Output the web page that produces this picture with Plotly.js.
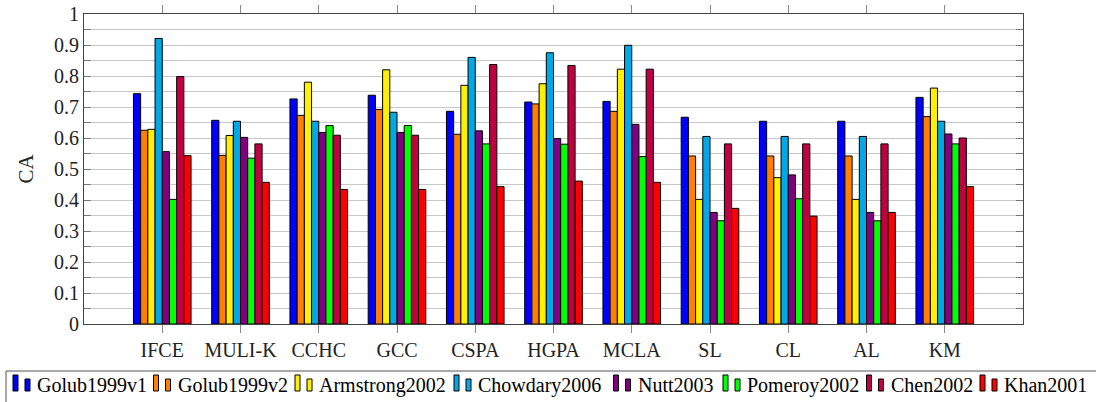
<!DOCTYPE html>
<html>
<head>
<meta charset="utf-8">
<script src="https://cdn.plot.ly/plotly-3.0.1.min.js"></script>
<style>html,body{margin:0;padding:0;background:#fff;}#chart{width:1096px;height:402px;}</style>
</head>
<body>
<div id="chart"></div>
<script>
const categories = ["IFCE","MULI-K","CCHC","GCC","CSPA","HGPA","MCLA","SL","CL","AL","KM"];
const seriesNames = ["Golub1999v1","Golub1999v2","Armstrong2002","Chowdary2006","Nutt2003","Pomeroy2002","Chen2002","Khan2001"];
const golub1999v1   = [0.743,0.657,0.726,0.738,0.686,0.716,0.718,0.667,0.654,0.654,0.731];
const golub1999v2   = [0.625,0.544,0.673,0.692,0.612,0.710,0.686,0.542,0.542,0.542,0.669];
const armstrong2002 = [0.628,0.608,0.780,0.820,0.770,0.775,0.822,0.402,0.472,0.402,0.761];
const chowdary2006  = [0.921,0.654,0.654,0.683,0.860,0.875,0.899,0.605,0.605,0.605,0.654];
const nutt2003      = [0.556,0.602,0.618,0.618,0.623,0.598,0.644,0.360,0.481,0.360,0.613];
const pomeroy2002   = [0.402,0.535,0.640,0.640,0.581,0.580,0.540,0.333,0.404,0.333,0.581];
const chen2002      = [0.798,0.581,0.609,0.609,0.837,0.834,0.822,0.581,0.581,0.581,0.600];
const khan2001      = [0.543,0.457,0.434,0.434,0.443,0.461,0.457,0.373,0.348,0.360,0.443];
const yTickVals = [0,0.1,0.2,0.3,0.4,0.5,0.6,0.7,0.8,0.9,1];
const yTickText = ["0","0.1","0.2","0.3","0.4","0.5","0.6","0.7","0.8","0.9","1"];

const seriesValues = [golub1999v1,golub1999v2,armstrong2002,chowdary2006,nutt2003,pomeroy2002,chen2002,khan2001];
const colors = ["#0000ff","#ff8000","#fff000","#00a8e8","#800080","#00ff00","#c00040","#ff0000"];
const FONT = "Liberation Serif";

// plot-area geometry (pixels)
const W = 1096, H = 402, L = 84, R = 73, T = 14, B = 78;
const PW = W - L - R, PH = H - T - B;
const px = x => (x - L) / PW;          // pixel -> paper x
const py = y => (H - B - y) / PH;      // pixel -> paper y

const traces = seriesNames.map((name,i)=>({
  type:"bar",
  name:name,
  x:categories,
  y:seriesValues[i],
  marker:{color:colors[i], line:{color:"#000", width:1}},
  showlegend:false
}));

// custom legend (pgfplots style): two small bars + label per series
const legFontSize = 20;
const legendTextX = [36, 176.5, 318, 477, 636.5, 746, 889.5, 1003];  // label left edges (px)
const shapes = [];
const annotations = [];
shapes.push({type:"rect", xref:"paper", yref:"paper", x0:px(6), x1:px(1110), y0:py(371), y1:py(410),
  line:{color:"#555", width:1}, fillcolor:"rgba(0,0,0,0)", layer:"above"});
seriesNames.forEach((name,i)=>{
  const tx = legendTextX[i];
  shapes.push({type:"rect", xref:"paper", yref:"paper", x0:px(tx-23), x1:px(tx-18), y0:py(391), y1:py(375),
    line:{color:"#000", width:1}, fillcolor:colors[i], layer:"above"});
  shapes.push({type:"rect", xref:"paper", yref:"paper", x0:px(tx-11), x1:px(tx-6), y0:py(391), y1:py(379),
    line:{color:"#000", width:1}, fillcolor:colors[i], layer:"above"});
  annotations.push({xref:"paper", yref:"paper", x:px(tx), y:py(385), xanchor:"left", yanchor:"middle",
    text:name, showarrow:false, font:{family:FONT, size:legFontSize, color:"#000"}, borderpad:0});
});

const layout = {
  width:W, height:H,
  margin:{l:L, r:R, t:T, b:B},
  paper_bgcolor:"#fff", plot_bgcolor:"#fff",
  font:{family:FONT, size:20, color:"#000"},
  barmode:"group", bargap:0.264, bargroupgap:0,
  showlegend:false,
  shapes:shapes,
  annotations:annotations,
  xaxis:{
    type:"category", range:[-1.0,11.0],
    showgrid:false, showline:true, mirror:"ticks", linecolor:"#444", linewidth:1,
    ticks:"outside", ticklen:8, tickcolor:"#888",
    tickfont:{family:FONT, size:20, color:"#222"}, automargin:false
  },
  yaxis:{
    range:[0,1], tickvals:yTickVals, ticktext:yTickText,
    showgrid:true, gridcolor:"#c8c8c8", gridwidth:1,
    showline:true, mirror:"ticks", linecolor:"#444", linewidth:1,
    ticks:"inside", ticklen:7, tickcolor:"#777",
    tickfont:{family:FONT, size:20, color:"#222"},
    zeroline:false, automargin:false,
    minor:{dtick:0.05, tick0:0, showgrid:true, gridcolor:"#c8c8c8", gridwidth:1, ticks:"inside", ticklen:7, tickcolor:"#777"},
    title:{text:"CA", font:{family:FONT, size:21, color:"#222"}, standoff:14}
  }
};

Plotly.newPlot("chart", traces, layout, {displayModeBar:false, staticPlot:true});
</script>
</body>
</html>
